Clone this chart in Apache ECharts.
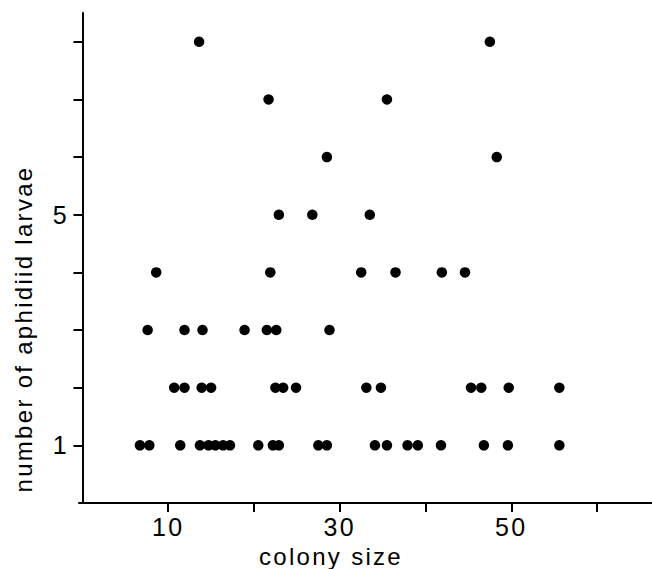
<!DOCTYPE html>
<html>
<head>
<meta charset="utf-8">
<script src="https://cdn.jsdelivr.net/npm/echarts@6/dist/echarts.min.js"></script>
<style>
  html, body { margin: 0; padding: 0; background: #fff; }
  #main { width: 652px; height: 569px; }
  /* the printed figure uses widely tracked lettering */
  #main text { letter-spacing: 2.3px; }
</style>
</head>
<body>
<div id="main"></div>
<script>
// colony size vs. number of aphidiid larvae (one entry per colony)
var colonySize = [
  6.7, 7.8, 11.4, 13.7, 14.7, 15.5, 16.4, 17.2, 20.5, 22.2, 22.9, 27.5, 28.5,
  34.1, 35.5, 37.9, 39.1, 41.8, 46.8, 49.6, 55.6,
  10.7, 11.9, 13.9, 15.0, 22.5, 23.4, 24.9, 33.1, 34.8, 45.3, 46.5, 49.7, 55.6,
  7.6, 11.9, 14.0, 18.9, 21.5, 22.6, 28.8,
  8.6, 21.9, 32.5, 36.5, 41.9, 44.6,
  22.9, 26.8, 33.5,
  28.5, 48.3,
  21.7, 35.5,
  13.6, 47.5
];
var larvae = [
  1, 1, 1, 1, 1, 1, 1, 1, 1, 1, 1, 1, 1,
  1, 1, 1, 1, 1, 1, 1, 1,
  2, 2, 2, 2, 2, 2, 2, 2, 2, 2, 2, 2, 2,
  3, 3, 3, 3, 3, 3, 3,
  4, 4, 4, 4, 4, 4,
  5, 5, 5,
  6, 6,
  7, 7,
  8, 8
];
var xTicks = [10, 20, 30, 40, 50, 60];
var xLabels = [10, 30, 50];
var yTicks = [1, 2, 3, 4, 5, 6, 7, 8];
var yLabels = [1, 5];

var points = colonySize.map(function (x, i) { return [x, larvae[i]]; });

var chart = echarts.init(document.getElementById('main'), null, { renderer: 'svg' });
var font = '"Liberation Sans", Arial, sans-serif';

chart.setOption({
  animation: false,
  backgroundColor: '#fff',
  grid: { left: 79, right: 0, top: 13, bottom: 66, outerBoundsMode: 'none', containLabel: false },
  xAxis: {
    type: 'value',
    min: -0.4,
    max: 66.4,
    name: 'colony size',
    nameLocation: 'middle',
    nameGap: 41,
    nameTextStyle: {
      color: '#000', fontSize: 24, fontFamily: font,
      padding: [0, 69, 0, 0]
    },
    axisLine: { lineStyle: { color: '#000', width: 2 } },
    axisTick: {
      show: true, inside: false, length: 9,
      customValues: xTicks,
      lineStyle: { color: '#000', width: 2 }
    },
    axisLabel: {
      customValues: xLabels,
      color: '#000', fontSize: 25, fontFamily: font, margin: 11
    },
    splitLine: { show: false }
  },
  yAxis: {
    type: 'value',
    min: 0,
    max: 8.5,
    name: 'number of aphidiid larvae',
    nameLocation: 'middle',
    nameGap: 44,
    nameTextStyle: {
      color: '#000', fontSize: 24, fontFamily: font,
      padding: [0, 142, 0, 0]
    },
    axisLine: { show: true, lineStyle: { color: '#000', width: 2 } },
    axisTick: {
      show: true, inside: false, length: 9,
      customValues: yTicks,
      lineStyle: { color: '#000', width: 2 }
    },
    axisLabel: {
      customValues: yLabels,
      color: '#000', fontSize: 25, fontFamily: font, margin: 10
    },
    splitLine: { show: false }
  },
  series: [{
    type: 'scatter',
    data: points,
    symbol: 'circle',
    symbolSize: 10.5,
    itemStyle: { color: '#000', opacity: 1 }
  }]
});
</script>
</body>
</html>
